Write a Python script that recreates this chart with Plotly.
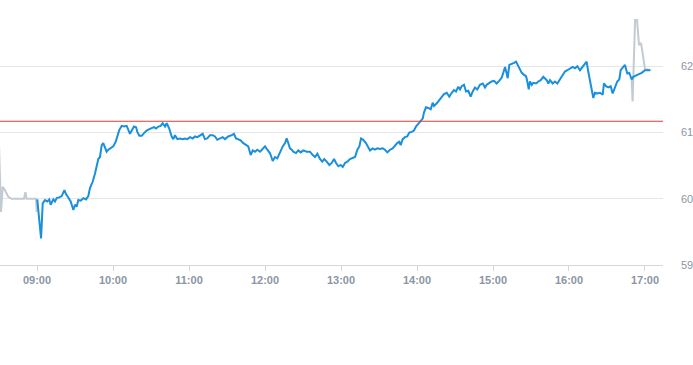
import pandas as pd
import plotly.graph_objects as go

# minutes after 09:00 and price for the regular session (blue)
session_min = [0.2, 3.2, 4.5, 6.3, 8.1, 9.7, 10.8, 12.9, 14.2, 15.6, 17.6, 19.5, 21.6, 22.9, 24.7, 26.6, 28.7, 30.0,
               31.3, 32.6, 34.5, 36.6, 38.7, 40.5, 41.8, 44.0, 45.8, 47.1, 48.4, 49.7, 51.1, 52.3, 53.7, 55.0, 56.3,
               58.2, 60.2, 62.1, 63.4, 65.0, 66.9, 68.7, 70.8, 72.1, 73.4, 74.8, 76.6, 78.2, 79.2, 80.8, 82.7, 84.5,
               86.6, 88.7, 90.6, 92.4, 94.0, 95.8, 97.7, 99.2, 101.1, 102.4, 104.4, 106.3, 107.6, 108.9, 110.8, 112.9,
               115.0, 116.8, 118.7, 120.8, 122.9, 124.7, 126.6, 128.7, 130.8, 132.6, 134.4, 136.6, 138.7, 140.5, 142.3,
               144.5, 146.6, 148.4, 151.0, 153.7, 155.5, 157.1, 158.9, 160.8, 162.9, 165.0, 166.8, 168.7, 170.3, 172.1,
               173.9, 176.1, 178.2, 180.0, 181.8, 183.9, 186.1, 187.9, 189.7, 191.8, 194.0, 195.8, 197.1, 198.4, 199.7,
               201.1, 202.3, 204.5, 206.3, 208.2, 210.2, 212.9, 215.5, 217.7, 219.5, 221.3, 223.4, 225.2, 226.8, 228.7,
               230.8, 232.7, 234.5, 236.1, 237.9, 239.8, 241.4, 243.2, 245.0, 247.1, 249.2, 251.1, 252.9, 254.5, 255.8,
               257.6, 259.7, 261.6, 262.9, 265.0, 266.8, 268.7, 270.8, 272.9, 274.7, 276.6, 278.7, 280.8, 282.6, 284.4,
               286.0, 287.1, 288.7, 290.5, 292.3, 293.9, 295.8, 297.6, 299.2, 301.0, 302.9, 304.5, 305.5, 307.1, 308.9,
               310.8, 312.4, 313.4, 315.6, 317.6, 319.5, 321.3, 323.5, 325.5, 327.4, 329.2, 330.8, 332.6, 334.0, 335.3,
               337.1, 338.7, 340.5, 342.4, 344.0, 345.8, 347.6, 349.7, 351.9, 353.7, 355.0, 357.1, 358.9, 360.8, 362.9,
               364.9, 366.9, 368.1, 369.5, 370.8, 371.6, 372.9, 374.8, 376.6, 378.2, 380.0, 381.3, 382.7, 384.5, 386.1,
               387.1, 388.2, 389.2, 390.6, 391.8, 394.0, 395.8, 397.7, 399.7, 401.1, 402.4, 403.7, 405.0, 407.1, 408.9,
               410.8, 412.9, 415.0, 416.8, 418.7, 420.8, 422.9, 424.7, 426.6, 428.7, 430.8, 432.6, 433.9, 435.2, 436.6,
               437.9, 439.2, 440.5, 442.3, 444.5, 446.6, 447.6, 449.2, 451.0, 452.9, 454.5, 456.3, 458.1, 459.7, 460.8,
               462.4, 464.2, 466.0, 467.6, 469.5, 470.8, 473.9, 477.4, 480.0, 484.0]
session_price = [59.99, 59.40, 59.93, 59.98, 59.96, 59.99, 59.91, 59.99, 59.96, 60.01, 60.02, 60.04, 60.13, 60.07, 60.02,
                 59.96, 59.83, 59.91, 59.88, 59.98, 59.97, 60.01, 59.99, 60.04, 60.16, 60.26, 60.38, 60.51, 60.60, 60.63,
                 60.81, 60.84, 60.78, 60.71, 60.74, 60.76, 60.79, 60.86, 60.96, 61.04, 61.10, 61.09, 61.10, 61.04, 60.98,
                 61.03, 61.09, 61.08, 61.01, 60.95, 60.95, 60.99, 61.03, 61.05, 61.06, 61.08, 61.06, 61.09, 61.10, 61.14,
                 61.09, 61.14, 61.06, 60.94, 60.90, 60.96, 60.90, 60.91, 60.90, 60.91, 60.90, 60.93, 60.91, 60.94, 60.93,
                 60.95, 60.98, 60.90, 60.91, 60.96, 60.96, 60.94, 60.89, 60.91, 60.93, 60.90, 60.94, 60.96, 60.98, 60.91,
                 60.90, 60.88, 60.84, 60.81, 60.79, 60.66, 60.73, 60.71, 60.74, 60.71, 60.75, 60.79, 60.74, 60.69, 60.57,
                 60.63, 60.61, 60.71, 60.79, 60.84, 60.91, 60.84, 60.76, 60.74, 60.71, 60.69, 60.73, 60.70, 60.73, 60.71,
                 60.71, 60.66, 60.63, 60.68, 60.60, 60.56, 60.60, 60.56, 60.51, 60.54, 60.60, 60.54, 60.49, 60.51, 60.48,
                 60.54, 60.56, 60.60, 60.61, 60.63, 60.74, 60.79, 60.91, 60.89, 60.84, 60.76, 60.73, 60.76, 60.74, 60.76,
                 60.75, 60.76, 60.74, 60.70, 60.74, 60.76, 60.81, 60.84, 60.86, 60.81, 60.90, 60.93, 60.94, 61.00, 61.01,
                 61.03, 61.09, 61.13, 61.16, 61.21, 61.30, 61.38, 61.37, 61.35, 61.45, 61.40, 61.44, 61.49, 61.53, 61.58,
                 61.60, 61.54, 61.60, 61.64, 61.62, 61.69, 61.65, 61.70, 61.72, 61.62, 61.63, 61.54, 61.62, 61.68, 61.65,
                 61.72, 61.74, 61.68, 61.72, 61.75, 61.77, 61.78, 61.74, 61.78, 61.83, 61.90, 61.99, 61.89, 61.82, 62.02,
                 62.03, 62.05, 62.07, 62.00, 61.97, 61.90, 61.87, 61.85, 61.77, 61.65, 61.77, 61.72, 61.75, 61.74, 61.77,
                 61.79, 61.84, 61.82, 61.79, 61.74, 61.79, 61.74, 61.77, 61.74, 61.80, 61.87, 61.92, 61.94, 61.97, 61.99,
                 61.97, 62.00, 61.94, 61.99, 62.03, 62.07, 61.92, 61.79, 61.69, 61.52, 61.60, 61.59, 61.60, 61.57, 61.74,
                 61.70, 61.68, 61.70, 61.59, 61.68, 61.77, 61.80, 61.94, 61.98, 62.02, 61.89, 61.90, 61.80, 61.84, 61.87,
                 61.90, 61.94, 61.94]

# pre-market (grey)
pre_min = [-31.0, -28.4, -27.1, -25.3, -22.7, -20.0, -10.3, -9.2, -8.3, -0.8, -0.2, 0.2]
pre_price = [61.45, 59.80, 60.18, 60.13, 60.03, 60.00, 60.00, 60.10, 60.00, 60.00, 59.80, 59.99]

# closing auction / after-hours (grey)
post_min = [469.5, 470.2, 472.2, 473.7, 475.3, 476.9, 480.0, 485.0]
post_price = [61.80, 61.47, 62.70, 62.70, 62.32, 62.35, 61.96, 61.94]

prev_close = 61.17
y_ticks = [59, 60, 61, 62]
y_tick_labels = ["59", "60", "61", "62"]

base = pd.Timestamp("2024-01-02 09:00:00")


def to_time(mins):
    return [base + pd.Timedelta(minutes=m) for m in mins]


fig = go.Figure()
fig.add_trace(go.Scatter(x=to_time(pre_min), y=pre_price, mode="lines",
                         line=dict(color="#c2cad2", width=2), hoverinfo="skip", showlegend=False))
fig.add_trace(go.Scatter(x=to_time(post_min), y=post_price, mode="lines",
                         line=dict(color="#c2cad2", width=2), hoverinfo="skip", showlegend=False))
fig.add_trace(go.Scatter(x=to_time(session_min), y=session_price, mode="lines",
                         line=dict(color="#1a8fdc", width=2), showlegend=False))

fig.add_shape(type="line", xref="paper", x0=0, x1=1, yref="y", y0=prev_close, y1=prev_close,
              line=dict(color="#dd3b36", width=1), layer="above")

fig.update_layout(
    width=693, height=365,
    margin=dict(l=0, r=30, t=0, b=100),
    paper_bgcolor="white", plot_bgcolor="white",
    font=dict(family="Liberation Sans, Arial, sans-serif", size=11, color="#8b95a3"),
    xaxis=dict(
        type="date",
        range=["2024-01-02 08:30:47", "2024-01-02 17:14:13"],
        tickformat="%H:%M",
        dtick=3600000,
        tick0="2024-01-02 09:00:00",
        showgrid=False,
        showline=True, linecolor="#d3d7de", linewidth=1,
        ticks="outside", ticklen=5, tickcolor="#d3d7de",
        tickfont=dict(size=11, color="#8b95a3", weight=600),
        zeroline=False,
    ),
    yaxis=dict(
        side="right",
        range=[59, 63],
        tickvals=y_ticks, ticktext=y_tick_labels,
        showgrid=True, gridcolor="#e4e6ea", gridwidth=1,
        zeroline=False, showline=False,
        ticks="", ticklabelstandoff=17,
        tickfont=dict(size=11, color="#8b95a3"),
    ),
)

fig.write_html("out.html", config={"displayModeBar": False},
               post_script="document.body.style.margin='0';")
